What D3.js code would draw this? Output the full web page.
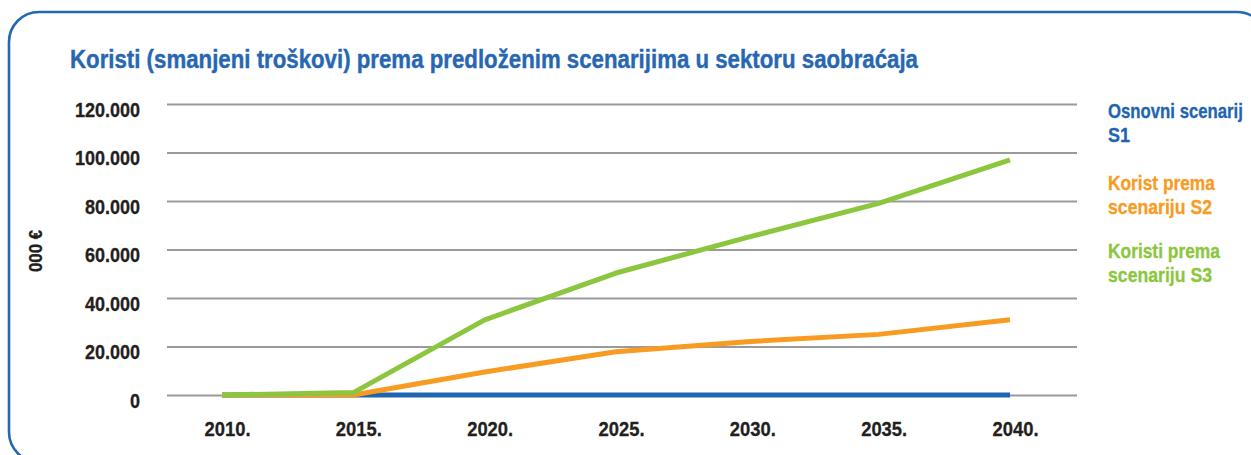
<!DOCTYPE html>
<html>
<head>
<meta charset="utf-8">
<script src="https://cdn.jsdelivr.net/npm/d3@7/dist/d3.min.js"></script>
<style>
  html, body { margin: 0; padding: 0; background: #fff; }
  svg { display: block; }
  text { font-family: "Liberation Sans", Arial, sans-serif; font-weight: bold; }
</style>
</head>
<body>
<svg id="chart" width="1251" height="455"></svg>
<script>
// Benefits (reduced costs) per scenario, in thousands of euros
const years = [2010, 2015, 2020, 2025, 2030, 2035, 2040];
const osnovniS1 = [0, 0, 0, 0, 0, 0, 0];
const koristS2 = [0, 0, 9500, 17800, 22000, 25000, 31000];
const koristS3 = [0, 1000, 31000, 50300, 65000, 79000, 97000];
const yTicks = [0, 20000, 40000, 60000, 80000, 100000, 120000];

const seriesNames = [
  ["Osnovni scenarij", "S1"],
  ["Korist prema", "scenariju S2"],
  ["Koristi prema", "scenariju S3"]
];
const seriesColors = ["#1f64b0", "#f89b22", "#8cc63f"];
const seriesValues = [osnovniS1, koristS2, koristS3];

const title = "Koristi (smanjeni troškovi) prema predloženim scenarijima u sektoru saobraćaja";
const yTitle = "000 €";

const svg = d3.select("#chart");

// narrow a text horizontally, imitating a condensed face
function condense(sel, factor) {
  sel.each(function () {
    const w = this.getComputedTextLength();
    d3.select(this)
      .attr("textLength", w * factor)
      .attr("lengthAdjust", "spacingAndGlyphs");
  });
}

// thicken glyphs slightly with an outline of the fill colour
function heavy(sel, color, w) {
  sel.attr("stroke", color).attr("stroke-width", w).attr("paint-order", "stroke");
}

// rounded frame
svg.append("rect")
  .attr("x", 9).attr("y", 12)
  .attr("width", 1258).attr("height", 450)
  .attr("rx", 30).attr("ry", 30)
  .attr("fill", "none")
  .attr("stroke", "#2468b3")
  .attr("stroke-width", 2.6);

// title
svg.append("text")
  .attr("x", 70).attr("y", 68)
  .attr("fill", "#2767b2")
  .style("font-size", "26px")
  .attr("textLength", 848)
  .attr("lengthAdjust", "spacingAndGlyphs")
  .text(title)
  .call(heavy, "#2767b2", 0.4);

const x = d3.scalePoint().domain(years).range([222, 1010]);
const y = d3.scaleLinear().domain([0, 120000]).range([395, 104]);

const loc = d3.formatLocale({ decimal: ",", thousands: ".", grouping: [3], currency: ["", "€"] });
const fmt = loc.format(",d");

// y axis with gridlines
const gY = svg.append("g")
  .attr("transform", "translate(167,0)")
  .call(d3.axisLeft(y).tickValues(yTicks).tickSize(-910).tickPadding(27).tickFormat(fmt));
gY.select(".domain").remove();
gY.selectAll(".tick line").attr("stroke", "#9a9a9c").attr("stroke-width", 2.2);
gY.selectAll(".tick text")
  .attr("fill", "#231f20")
  .attr("dy", "0.6em")
  .style("font-size", "20px")
  .call(condense, 0.9)
  .call(heavy, "#231f20", 0.3);

// x axis labels
const gX = svg.append("g")
  .attr("transform", "translate(0,395)")
  .call(d3.axisBottom(x).tickSize(0).tickPadding(27).tickFormat(d => d + "."));
gX.select(".domain").remove();
gX.selectAll(".tick text")
  .attr("fill", "#231f20")
  .attr("dx", 5)
  .style("font-size", "20px")
  .call(condense, 0.92)
  .call(heavy, "#231f20", 0.3);

// y axis title
svg.append("text")
  .attr("transform", "translate(42,251) rotate(-90)")
  .attr("text-anchor", "middle")
  .attr("fill", "#231f20")
  .style("font-size", "18px")
  .attr("textLength", 42)
  .attr("lengthAdjust", "spacingAndGlyphs")
  .text(yTitle)
  .call(heavy, "#231f20", 0.3);

// series lines
const line = d3.line().x((d, i) => x(years[i])).y(d => y(d));
seriesValues.forEach((vals, k) => {
  svg.append("path")
    .datum(vals)
    .attr("d", line)
    .attr("fill", "none")
    .attr("stroke", seriesColors[k])
    .attr("stroke-width", 5)
    .attr("stroke-linejoin", "round");
});

// legend: each line squeezed horizontally to a condensed width
const legendY = [118, 190, 258];
const legendW = [[135, 22], [107, 104], [112, 104]];
seriesNames.forEach((lines, k) => {
  lines.forEach((t, j) => {
    const ty = legendY[k] + j * 24;
    const txt = svg.append("text")
      .attr("x", 0)
      .attr("y", 0)
      .attr("fill", seriesColors[k])
      .style("font-size", "20px")
      .text(t)
      .call(heavy, seriesColors[k], 0.3);
    const sx = legendW[k][j] / txt.node().getComputedTextLength();
    txt.attr("transform", `translate(1108,${ty}) scale(${sx},1)`);
  });
});
</script>
</body>
</html>
